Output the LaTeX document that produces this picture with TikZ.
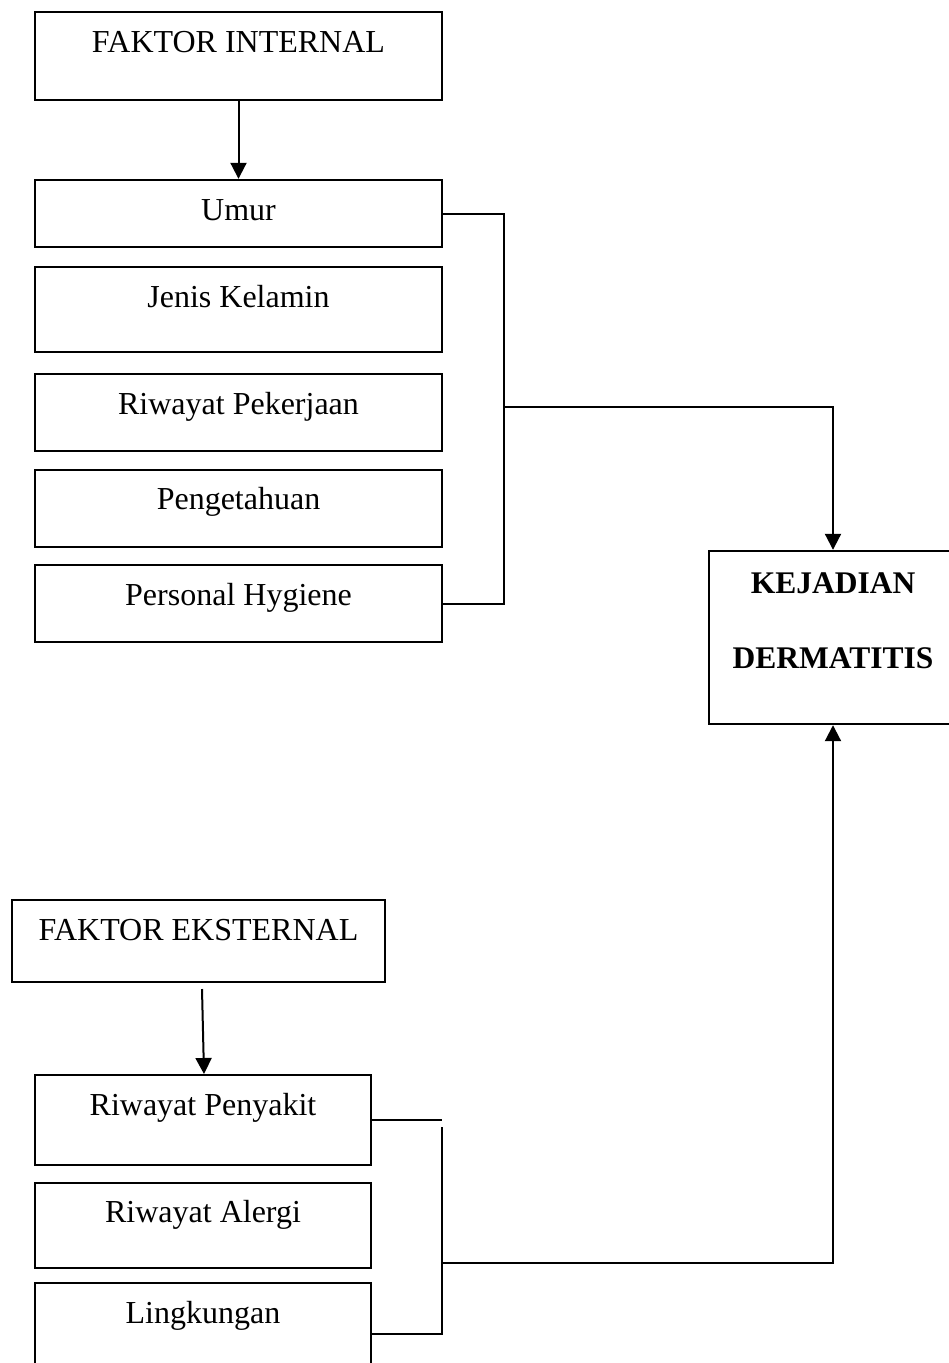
\documentclass[tikz,border=0pt]{standalone}
\usepackage{fontspec}
\setmainfont{Liberation Serif}
\usetikzlibrary{arrows.meta}
\begin{document}
\begin{tikzpicture}[x=1pt,y=-1pt,
  box/.style={draw=black,line width=2.4pt,rectangle,inner sep=0pt},
  txt/.style={anchor=base,inner sep=0pt,font=\fontsize{32}{38}\selectfont},
  btxt/.style={anchor=base,inner sep=0pt,font=\fontsize{31.5}{38}\selectfont\bfseries},
  conn/.style={draw=black,line width=2pt},
  arr/.style={conn,-{Triangle[width=16pt,length=16pt]}}]
\useasboundingbox (0,0) rectangle (949,1363);
\clip (0,0) rectangle (949,1363);
% internal factor boxes
\node[box,minimum width=407pt,minimum height=88pt] (fi) at (238.5,56) {};
\node[box,minimum width=407pt,minimum height=67pt] (umur) at (238.5,213.5) {};
\node[box,minimum width=407pt,minimum height=85pt] (jk) at (238.5,309.5) {};
\node[box,minimum width=407pt,minimum height=77pt] (rpk) at (238.5,412.5) {};
\node[box,minimum width=407pt,minimum height=77pt] (pg) at (238.5,508.5) {};
\node[box,minimum width=407pt,minimum height=77pt] (ph) at (238.5,603.5) {};
\node[txt] (fi-t) at (238.5,52) {FAKTOR INTERNAL};
\node[txt] (umur-t) at (238.5,220) {Umur};
\node[txt] (jk-t) at (238.5,307) {Jenis Kelamin};
\node[txt] (rpk-t) at (238.5,414) {Riwayat Pekerjaan};
\node[txt] (pg-t) at (238.5,509) {Pengetahuan};
\node[txt] (ph-t) at (238.5,605) {Personal Hygiene};
% outcome box
\node[box,minimum width=248pt,minimum height=173pt] (kd) at (833,637.5) {};
\node[btxt] (kd-t1) at (833,593) {KEJADIAN};
\node[btxt] (kd-t2) at (833,668) {DERMATITIS};
% external factor boxes
\node[box,minimum width=373pt,minimum height=82pt] (fe) at (198.5,941) {};
\node[box,minimum width=336pt,minimum height=90pt] (rp) at (203,1120) {};
\node[box,minimum width=336pt,minimum height=85pt] (ra) at (203,1225.5) {};
\node[box,minimum width=336pt,minimum height=120pt] (lk) at (203,1343) {};
\node[txt] (fe-t) at (198.5,940) {FAKTOR EKSTERNAL};
\node[txt] (rp-t) at (203,1115) {Riwayat Penyakit};
\node[txt] (ra-t) at (203,1222) {Riwayat Alergi};
\node[txt] (lk-t) at (203,1323) {Lingkungan};
% connectors
\draw[arr] (fi.south) -- (umur.north);
\coordinate (fe-a) at (202,989);
\coordinate (rp-a) at (204,1074);
\draw[arr] (fe-a) -- (rp-a);
\coordinate (bi) at (504,407);
\draw[conn] (umur.east) -| (bi);
\draw[conn] (ph.east) -| (bi);
\draw[arr] (bi) -| (kd.north);
\coordinate (bt) at (442,1127);
\coordinate (bb) at (442,1334);
\coordinate (be) at (442,1263);
\draw[conn] (rp.east) -- (rp.east -| bt);
\draw[conn] (bt) -- (bb) -- (bb -| lk.east);
\draw[arr] (be) -| (kd.south);
\end{tikzpicture}
\end{document}
